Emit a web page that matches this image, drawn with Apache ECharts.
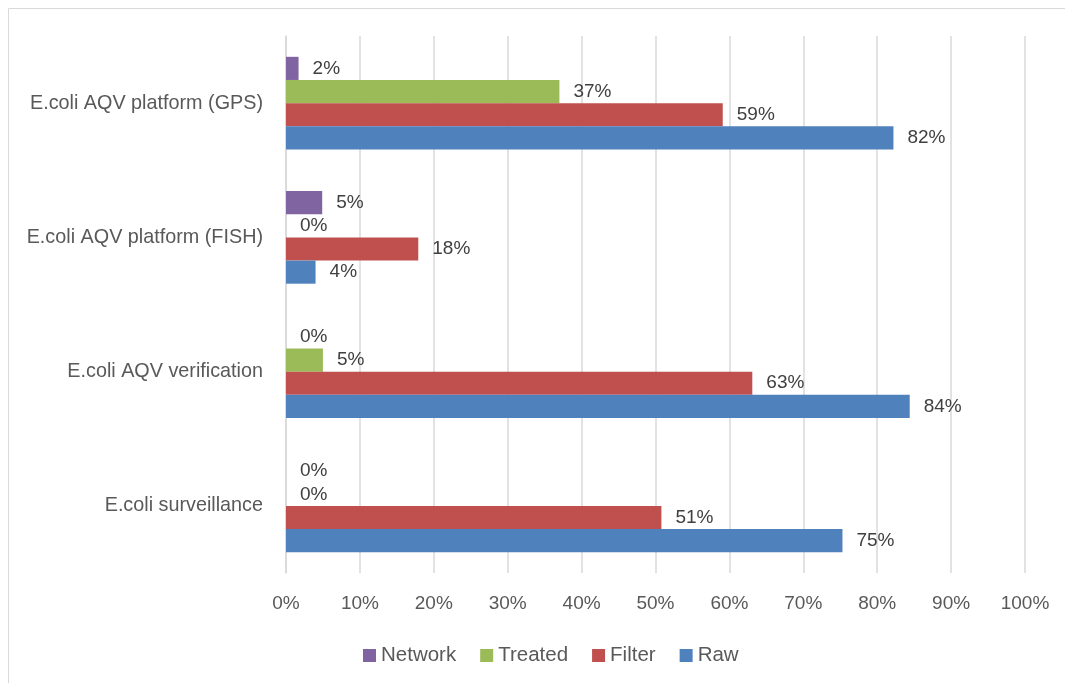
<!DOCTYPE html>
<html>
<head>
<meta charset="utf-8">
<script src="https://cdn.jsdelivr.net/npm/echarts@6/dist/echarts.min.js"></script>
<style>
  html, body { margin: 0; padding: 0; background: #fff; }
  #chart { width: 1065px; height: 683px; }
</style>
</head>
<body>
<div id="chart"></div>
<script>
  // categories, bottom to top
  const categories = ['E.coli surveillance', 'E.coli AQV verification', 'E.coli AQV platform (FISH)', 'E.coli AQV platform (GPS)'];

  // values in percent
  const raw = [75.3, 84.4, 4.0, 82.2];
  const filter = [50.8, 63.1, 17.9, 59.1];
  const treated = [0, 5.0, 0, 37.0];
  const network = [0, 0, 4.9, 1.7];

  const legendOrder = ['Network', 'Treated', 'Filter', 'Raw'];
  const xTicks = [0, 10, 20, 30, 40, 50, 60, 70, 80, 90, 100];

  const font = '"Liberation Sans", Arial, sans-serif';

  const chart = echarts.init(document.getElementById('chart'));

  const makeSeries = (name, data, color) => ({
    name: name,
    type: 'bar',
    data: data,
    barGap: '0%',
    barCategoryGap: '31%',
    itemStyle: { color: color },
    label: {
      show: true,
      position: 'right',
      distance: 14,
      color: '#404040',
      fontSize: 19,
      fontFamily: font,
      formatter: p => Math.round(p.value) + '%'
    }
  });

  const option = {
    animation: false,
    textStyle: { fontFamily: font },
    graphic: [{
      type: 'rect',
      shape: { x: 8.5, y: 8.5, width: 1080, height: 700 },
      style: { fill: 'none', stroke: '#d9d9d9', lineWidth: 1 },
      silent: true
    }],
    grid: { left: 286, right: 40, top: 36, bottom: 110 },
    legend: {
      data: legendOrder,
      left: 358,
      top: 640,
      itemWidth: 13,
      itemHeight: 13,
      itemGap: 24,
      icon: 'rect',
      textStyle: { color: '#595959', fontSize: 20.5, fontFamily: font }
    },
    xAxis: {
      type: 'value',
      min: xTicks[0],
      max: xTicks[xTicks.length - 1],
      interval: 10,
      axisLine: { show: false },
      axisTick: { show: false },
      splitLine: { lineStyle: { color: '#d9d9d9', width: 1.5 } },
      axisLabel: {
        color: '#595959',
        fontSize: 19,
        fontFamily: font,
        margin: 21,
        formatter: v => v + '%'
      }
    },
    yAxis: {
      type: 'category',
      data: categories,
      axisLine: { show: true, lineStyle: { color: '#d9d9d9', width: 1.5 } },
      axisTick: { show: false },
      axisLabel: {
        color: '#595959',
        fontSize: 19.8,
        fontFamily: font,
        margin: 23
      }
    },
    // first series is drawn at the top of each group
    series: [
      makeSeries('Network', network, '#8064a2'),
      makeSeries('Treated', treated, '#9bbb59'),
      makeSeries('Filter', filter, '#c0504d'),
      makeSeries('Raw', raw, '#4f81bd')
    ]
  };

  chart.setOption(option);
</script>
</body>
</html>
